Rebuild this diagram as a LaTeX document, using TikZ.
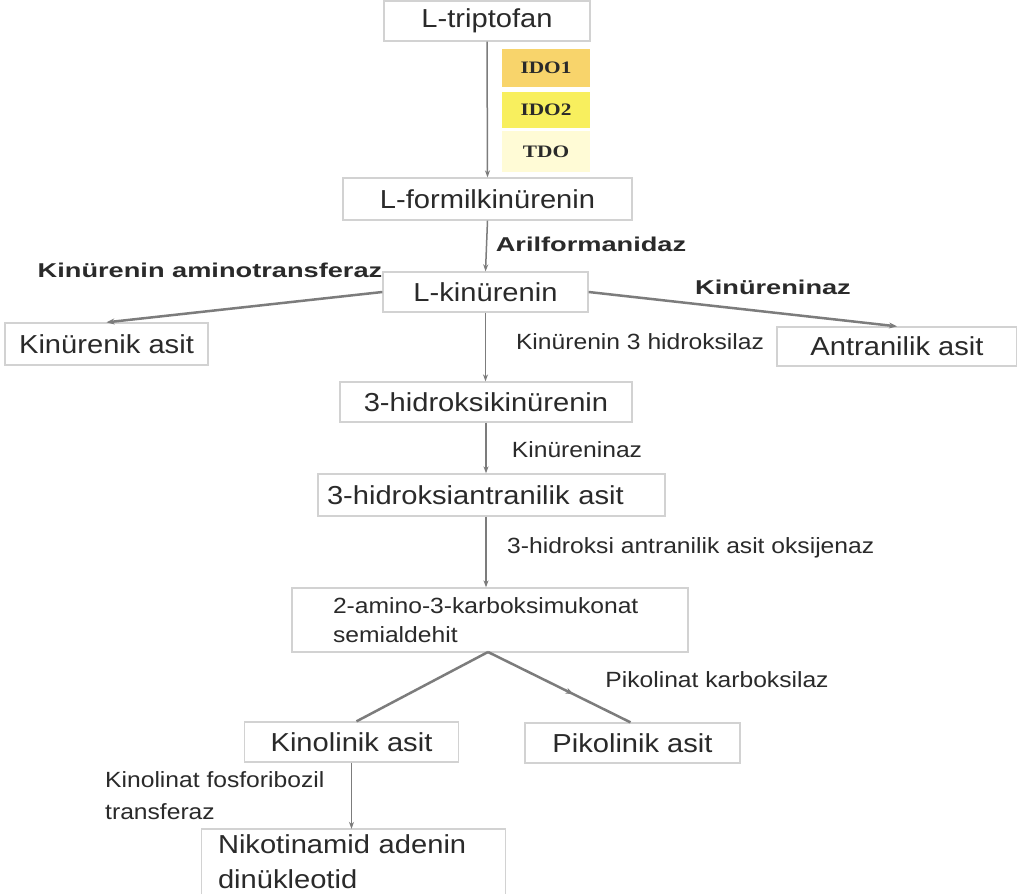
\documentclass[tikz,border=0pt]{standalone}
\usepackage{fontspec}
\setmainfont{Liberation Sans}[FakeStretch=1.12]
\newfontfamily\boldlab{Liberation Sans}[FakeStretch=1.36]
\newfontfamily\idofont{Liberation Serif}[FakeStretch=1.22]
\usetikzlibrary{arrows.meta,decorations.markings,calc}
\definecolor{boxgray}{HTML}{D2D2D2}
\definecolor{linegray}{HTML}{7C7C7C}
\definecolor{txt}{HTML}{2A2A2A}
\definecolor{idoA}{HTML}{F8D46B}
\definecolor{idoB}{HTML}{F8EF5E}
\definecolor{idoC}{HTML}{FFFBD6}
\tikzset{
  x=1pt, y=-1pt,
  cbox/.style={draw=boxgray, line width=1.3pt, fill=white, text=txt, inner sep=0pt,
    font=\fontsize{26}{30}\selectfont},
  idobox/.style={fill=#1, draw=none, minimum width=88pt, text=txt, inner sep=0pt,
    font=\idofont\bfseries\fontsize{17.5}{19}\selectfont},
  lab/.style={text=txt, inner sep=0pt, font=\fontsize{22}{26}\selectfont},
  blab/.style={text=txt, inner sep=0pt, font=\boldlab\bfseries\fontsize{20}{24}\selectfont},
  varr/.style={draw=linegray, line width=1.5pt, -{Stealth[length=7pt,width=5pt]}},
  darr/.style={draw=linegray, line width=2.5pt, -{Stealth[length=8pt,width=6pt]}},
  dline/.style={draw=linegray, line width=2.5pt},
  midarr/.style={postaction={decorate}, decoration={markings,
    mark=at position 0.6 with {\arrow{Stealth[length=8pt,width=6pt]}}}},
}
\begin{document}
\begin{tikzpicture}
\useasboundingbox (0,0) rectangle (1017,894);
\fill[white] (0,0) rectangle (1017,894);
\clip (0,0) rectangle (1017,894);

% boxes
\node[cbox, minimum width=206pt, minimum height=40pt] (trp) at (487,21) {L-triptofan};
\node[cbox, minimum width=289pt, minimum height=42pt] (formil) at (487.5,199) {L-formilkinürenin};
\node[cbox, minimum width=205pt, minimum height=40pt] (kyn) at (485.5,292) {L-kinürenin};
\node[cbox, minimum width=203pt, minimum height=42pt] (kyna) at (106.5,344) {Kinürenik asit};
\node[cbox, minimum width=240pt, minimum height=39pt] (anth) at (897,346.5) {Antranilik asit};
\node[cbox, minimum width=292pt, minimum height=40pt] (hk) at (486,402) {3-hidroksikinürenin};
\node[cbox, minimum height=42pt, text width=329pt, inner xsep=9pt, align=left] (haa) at (491.5,495) {3-hidroksiantranilik asit};
\node[cbox, minimum height=64pt, text width=314pt, inner xsep=41pt, align=left,
  font=\fontsize{22}{29}\selectfont] (amino) at (490,620) {2-amino-3-karboksimukonat\\semialdehit};
\node[cbox, minimum width=214pt, minimum height=40pt] (kin) at (351.5,742) {Kinolinik asit};
\node[cbox, minimum width=215pt, minimum height=40pt] (pic) at (632.5,743) {Pikolinik asit};
\node[cbox, draw=none, minimum height=64pt, text width=271pt, inner xsep=16pt, align=left,
  font=\fontsize{26}{35}\selectfont] (nad) at (353.5,861.5) {Nikotinamid adenin\\dinükleotid};
\draw[boxgray, line width=1.3pt] (nad.south west) |- (nad.north east) -- (nad.south east);

% enzyme boxes
\node[idobox=idoA, minimum height=38pt] (ido1) at (546,68) {IDO1};
\node[idobox=idoB, minimum height=36pt] (ido2) at (546,110) {IDO2};
\node[idobox=idoC, minimum height=41pt] (tdo) at (546,151.5) {TDO};

% connectors
\draw[varr] (trp.south) -- (formil.north);
\draw[varr] (formil.south) -- (kyn.north);
\draw[varr] (kyn.south) -- (kyn.south |- hk.north);
\draw[varr] (hk.south) -- (hk.south |- haa.north);
\draw[varr] (haa.south -| hk.south) -- (hk.south |- amino.north);
\draw[darr] (kyn.west) -- (kyna.north);
\draw[darr] (kyn.east) -- (anth.north);
\coordinate (apex) at (488,652);
\draw[dline] (apex) -- ($(kin.north)+(5,0)$);
\draw[dline, midarr] (apex) -- ($(pic.north)+(-2,0)$);
\draw[varr] (kin.south) -- (kin.south |- nad.north);

% labels
\node[blab] (l1) at (591,244) {Arilformanidaz};
\node[blab] (l2) at (210,270) {Kinürenin aminotransferaz};
\node[blab] (l3) at (773,287) {Kinüreninaz};
\node[lab] (l4) at (640,342) {Kinürenin 3 hidroksilaz};
\node[lab] (l5) at (577,450) {Kinüreninaz};
\node[lab, anchor=west] (l6) at (507,548) {3-hidroksi antranilik asit oksijenaz};
\node[lab] (l7) at (717,680) {Pikolinat karboksilaz};
\node[lab, anchor=west, align=left, font=\fontsize{22}{32}\selectfont] (l8) at (105,796) {Kinolinat fosforibozil\\transferaz};
\end{tikzpicture}
\end{document}
